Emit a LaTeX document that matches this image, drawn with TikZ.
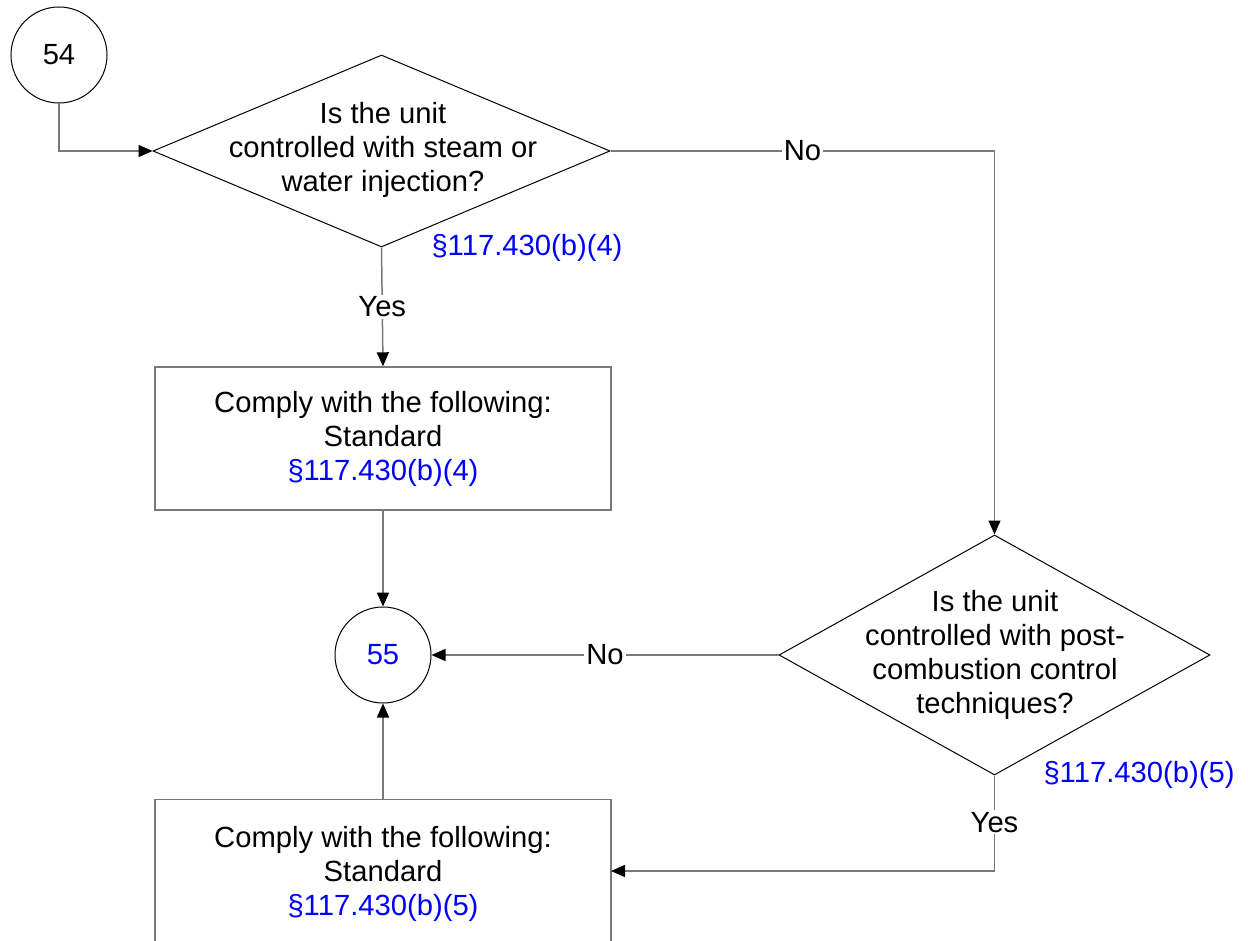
\documentclass[tikz,border=0pt]{standalone}
\usepackage{fontspec}
\setmainfont{Liberation Sans}
\usetikzlibrary{shapes.geometric,arrows.meta}
\definecolor{linegray}{RGB}{120,120,120}
\definecolor{refblue}{RGB}{0,0,255}
\begin{document}
\begin{tikzpicture}[x=0.5pt,y=-0.5pt,
  font=\fontsize{14.6pt}{17pt}\selectfont,
  decst/.style={diamond, draw=black, line width=0.5pt, inner sep=0pt},
  circst/.style={circle, draw=black, line width=0.5pt, minimum size=48pt, inner sep=0pt},
  boxst/.style={rectangle, draw=linegray, line width=0.7pt, align=center, inner sep=0pt},
  link/.style={draw=linegray, line width=0.75pt},
  arr/.style={link, -{Triangle[length=7pt,width=6pt,color=black,fill=black]}},
  lab/.style={fill=white, inner sep=1pt},
  refst/.style={text=refblue}
]
\useasboundingbox (0,0) rectangle (1248,941);

% nodes
\node[circst] (c54) at (59,55) {54};
\node[decst, minimum width=228.5pt, minimum height=96pt] (d1) at (381.5,151) {};
\node[align=center] (t1) at (383,150) {Is the unit\\controlled with steam or\\water injection?};
\node[refst] (r4) at (527,248) {§117.430(b)(4)};

\node[boxst, minimum width=228pt, minimum height=71.5pt] (b1) at (383,438.5)
  {Comply with the following:\\Standard\\\textcolor{refblue}{§117.430(b)(4)}};

\node[circst, text=refblue] (c55) at (383,655) {55};

\node[decst, minimum width=215.5pt, minimum height=120pt] (d2) at (994.5,655) {};
\node[align=center] (t2) at (995,655) {Is the unit\\controlled with post-\\combustion control\\techniques?};
\node[refst] (r5) at (1139,775) {§117.430(b)(5)};

\node[boxst, minimum width=228pt, minimum height=151pt, anchor=north] (b2) at (383,799) {};
\node[align=center] (t3) at (383,874) {Comply with the following:\\Standard\\\textcolor{refblue}{§117.430(b)(5)}};
\coordinate (b2in) at (611,871);

% connectors
\draw[arr] (c54.south) |- (d1.west);
\draw[arr] (d1.east) -| node[lab, pos=0.25]{No} (d2.north);
\draw[arr] (d1.south) -- node[lab]{Yes} (b1.north);
\draw[arr] (b1.south) -- (c55.north);
\draw[arr] (d2.west) -- node[lab]{No} (c55.east);
\draw[arr] (d2.south) |- node[lab, pos=0.245]{Yes} (b2in);
\draw[arr] (b2.north) -- (c55.south);
\end{tikzpicture}
\end{document}
